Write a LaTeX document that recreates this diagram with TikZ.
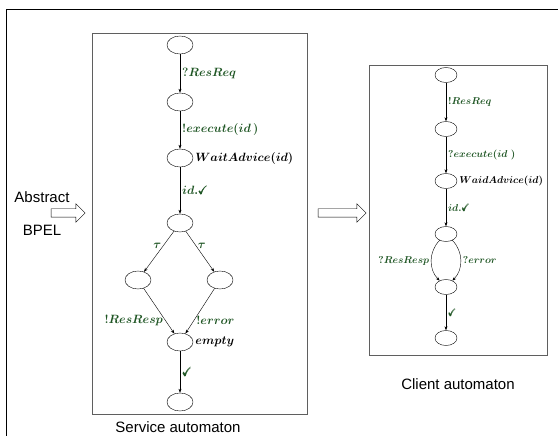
\documentclass[tikz,border=0pt]{standalone}
\usepackage{amsmath}
\usepackage{amssymb}
\usepackage{xcolor}
\usepackage{fontspec}
\setsansfont{Liberation Sans}
\usetikzlibrary{shapes.geometric,shapes.arrows,arrows.meta}
\definecolor{labelgreen}{RGB}{30, 85, 35}
\definecolor{framegray}{RGB}{95, 95, 95}
\newcommand{\bmath}[1]{{\boldmath$#1$}}
\newcommand{\tick}{\pmb{\checkmark}}

\begin{document}
\begin{tikzpicture}[
        x=1pt, y=-1pt,
        state/.style={ellipse, draw, thin, minimum width=26pt, minimum height=18pt, inner sep=0pt},
        cstate/.style={state, minimum width=22pt, minimum height=15pt},
        trans/.style={-{Stealth[length=4pt, width=3pt]}, thin},
        lbl/.style={font=\fontsize{12}{14}\selectfont, text=labelgreen, inner sep=2pt},
        clbl/.style={lbl, font=\fontsize{10}{12}\selectfont},
        blbl/.style={font=\fontsize{12}{14}\selectfont, inner sep=2pt},
        cblbl/.style={blbl, font=\fontsize{10}{12}\selectfont},
        frame/.style={draw=framegray, line width=0.8pt},
        bigarrow/.style={single arrow, draw, thin, inner xsep=0pt, inner ysep=4pt, single arrow head extend=5pt},
        caption/.style={font=\sffamily\fontsize{15}{17}\selectfont}
    ]
    \useasboundingbox (0,0) rectangle (558,436);

    % Frames
    \draw[line width=0.8pt] (6,436) -- (6,9) -- (558,9);
    \draw[frame] (92,33) rectangle (307,414);
    \draw[frame] (369,65) rectangle (547,355);

    % Service automaton
    \node[state] (s1) at (180,45) {};
    \node[state] (s2) at (180,102) {};
    \node[state, label={[blbl]right:\bmath{WaitAdvice(id)}}] (s3) at (180,158) {};
    \node[state] (s4) at (180,223) {};
    \node[state] (s5) at (138,280) {};
    \node[state] (s6) at (220,280) {};
    \node[state, label={[blbl]right:\bmath{empty}}] (s7) at (180,342) {};
    \node[state] (s8) at (180,402) {};

    \draw[trans] (s1) -- node[lbl, right] {\bmath{?ResReq}} (s2);
    \draw[trans] (s2) -- node[lbl, right] {\bmath{!execute(id\,)}} (s3);
    \draw[trans] (s3) -- node[lbl, right] {\bmath{id.\tick}} (s4);
    \draw[trans] (s4) -- node[lbl, left, pos=0.35] {\bmath{\tau}} (s5);
    \draw[trans] (s4) -- node[lbl, right, pos=0.35] {\bmath{\tau}} (s6);
    \draw[trans] (s5) -- node[lbl, left, pos=0.7] {\bmath{!ResResp}} (s7);
    \draw[trans] (s6) -- node[lbl, right, pos=0.7] {\bmath{!error}} (s7);
    \draw[trans] (s7) -- node[lbl, right] {\bmath{\tick}} (s8);

    % Client automaton
    \node[cstate] (c1) at (446,75) {};
    \node[cstate] (c2) at (446,129) {};
    \node[cstate, label={[cblbl]right:\bmath{WaidAdvice(id)}}] (c3) at (446,181) {};
    \node[cstate] (c4) at (446,234) {};
    \node[cstate] (c5) at (446,287) {};
    \node[cstate] (c6) at (446,338) {};

    \draw[trans] (c1) -- node[clbl, right] {\bmath{!ResReq}} (c2);
    \draw[trans] (c2) -- node[clbl, right] {\bmath{?execute(id\ )}} (c3);
    \draw[trans] (c3) -- node[clbl, right] {\bmath{id.\tick}} (c4);
    \draw[trans] (c4.225) to[bend right=45] node[clbl, left] {\bmath{?ResResp}} (c5.135);
    \draw[trans] (c4.315) to[bend left=45] node[clbl, right] {\bmath{?error}} (c5.45);
    \draw[trans] (c5) -- node[clbl, right] {\bmath{\tick}} (c6);

    % Captions and arrows
    \node[caption] (abstract) at (42,197) {Abstract};
    \node[bigarrow, minimum height=34pt] (inarrow) at (66,213) {};
    \node[caption] (bpel) at (42,230) {BPEL};
    \node[bigarrow, minimum height=48pt] (midarrow) at (340,213) {};
    \node[caption] (servicecap) at (178,427) {Service automaton};
    \node[caption] (clientcap) at (458,384) {Client automaton};
\end{tikzpicture}
\end{document}
